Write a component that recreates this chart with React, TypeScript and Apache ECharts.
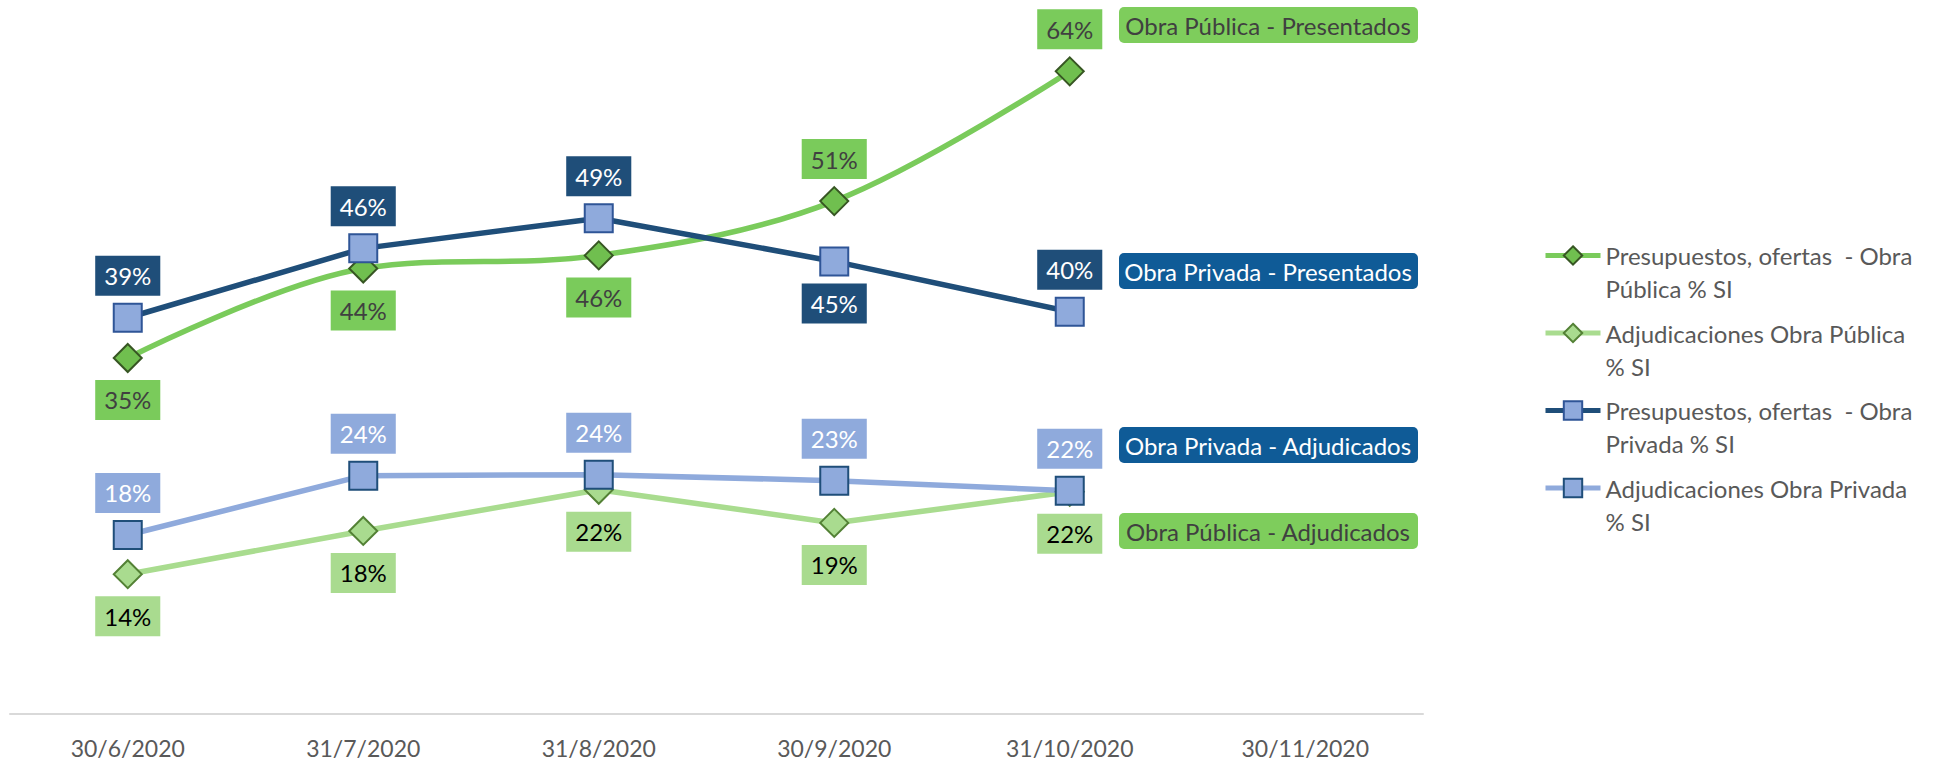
import React, { useEffect, useRef } from "react";
import * as echarts from "echarts";

const categories = ["30/6/2020", "31/7/2020", "31/8/2020", "30/9/2020", "31/10/2020", "30/11/2020"];

const seriesNames = [
  "Presupuestos, ofertas  - Obra Pública % SI",
  "Adjudicaciones Obra Pública % SI",
  "Presupuestos, ofertas  - Obra Privada % SI",
  "Adjudicaciones Obra Privada % SI",
];

const legendLabels: Record<string, string> = {
  "Presupuestos, ofertas  - Obra Pública % SI": "\nPresupuestos, ofertas  - Obra\nPública % SI",
  "Adjudicaciones Obra Pública % SI": "\nAdjudicaciones Obra Pública\n% SI",
  "Presupuestos, ofertas  - Obra Privada % SI": "\nPresupuestos, ofertas  - Obra\nPrivada % SI",
  "Adjudicaciones Obra Privada % SI": "\nAdjudicaciones Obra Privada\n% SI",
};

const publicaPresentados = [35.4, 44.3, 45.6, 51.0, 63.9];
const publicaAdjudicados = [13.9, 18.2, 22.3, 19.0, 22.1];
const privadaPresentados = [39.4, 46.3, 49.3, 45.0, 40.0];
const privadaAdjudicados = [17.8, 23.7, 23.8, 23.2, 22.2];

const publicaPresentadosLabelPos = ["bottom", "bottom", "bottom", "top", "top"];
const publicaAdjudicadosLabelPos = ["bottom", "bottom", "bottom", "bottom", "bottom"];
const privadaPresentadosLabelPos = ["top", "top", "top", "bottom", "top"];
const privadaAdjudicadosLabelPos = ["top", "top", "top", "top", "top"];

const annotations = [
  { text: "Obra Pública - Presentados", y: 7, bg: "#7ECD5C", color: "#404040" },
  { text: "Obra Privada - Presentados", y: 253, bg: "#0F5B97", color: "#FFFFFF" },
  { text: "Obra Privada - Adjudicados", y: 427, bg: "#0F5B97", color: "#FFFFFF" },
  { text: "Obra Pública - Adjudicados", y: 513, bg: "#7ECD5C", color: "#404040" },
];

const FONT = "Lato";

function makeSeries(
  name: string,
  values: number[],
  positions: string[],
  cfg: {
    line: string;
    symbol: string;
    fill: string;
    border: string;
    labelBg: string;
    labelColor: string;
    smooth: number | boolean;
  }
) {
  return {
    name,
    type: "line",
    smooth: cfg.smooth,
    symbol: cfg.symbol,
    symbolSize: 28,
    lineStyle: { color: cfg.line, width: 5.5 },
    itemStyle: { color: cfg.fill, borderColor: cfg.border, borderWidth: 2 },
    data: values.map((v, i) => ({
      value: v,
      label: { position: positions[i] },
    })),
    label: {
      show: true,
      distance: 7,
      formatter: (p: any) => Math.round(p.value) + "%",
      backgroundColor: cfg.labelBg,
      color: cfg.labelColor,
      fontFamily: FONT,
      fontSize: 24,
      lineHeight: 26,
      padding: [7, 9, 7, 9],
    },
    emphasis: { disabled: true },
  };
}

export default function App() {
  const ref = useRef<HTMLDivElement>(null);

  useEffect(() => {
    if (!ref.current) return;
    const chart = echarts.init(ref.current, null, { renderer: "svg" });

    const graphics: any[] = [];
    annotations.forEach((a) => {
      graphics.push({
        type: "group",
        children: [
          {
            type: "rect",
            shape: { x: 1119, y: a.y, width: 299, height: 36, r: 5 },
            style: { fill: a.bg },
          },
          {
            type: "text",
            x: 1268,
            y: a.y + 18,
            style: {
              text: a.text,
              fill: a.color,
              font: `24px ${FONT}`,
              align: "center",
              verticalAlign: "middle",
            },
          },
        ],
      });
    });

    chart.setOption({
      animation: false,
      grid: { left: 10, right: 514, top: 10, bottom: 46, containLabel: false },
      legend: {
        orient: "vertical",
        left: 1543,
        top: 206,
        padding: 0,
        itemWidth: 55,
        itemHeight: 23,
        itemGap: -21.5,
        selectedMode: false,
        data: seriesNames,
        formatter: (n: string) => legendLabels[n],
        lineStyle: { width: 5 },
        itemStyle: { borderWidth: 2 },
        textStyle: {
          fontFamily: FONT,
          fontSize: 24,
          color: "#595959",
          lineHeight: 33,
        },
      },
      xAxis: {
        type: "category",
        data: categories,
        boundaryGap: true,
        axisLine: { lineStyle: { color: "#D9D9D9", width: 2 } },
        axisTick: { show: false },
        axisLabel: {
          color: "#595959",
          fontFamily: FONT,
          fontSize: 23,
          margin: 22,
        },
      },
      yAxis: {
        type: "value",
        min: 0,
        max: 70,
        show: false,
        splitLine: { show: false },
      },
      graphic: graphics,
      series: [
        makeSeries(seriesNames[0], publicaPresentados, publicaPresentadosLabelPos, {
          line: "#7ACB5B",
          symbol: "diamond",
          fill: "#70BF4F",
          border: "#375623",
          labelBg: "#7ACB5B",
          labelColor: "#404040",
          smooth: 0.35,
        }),
        makeSeries(seriesNames[1], publicaAdjudicados, publicaAdjudicadosLabelPos, {
          line: "#A9DC8F",
          symbol: "diamond",
          fill: "#A9DB8F",
          border: "#538135",
          labelBg: "#A9DB8F",
          labelColor: "#000000",
          smooth: false,
        }),
        makeSeries(seriesNames[2], privadaPresentados, privadaPresentadosLabelPos, {
          line: "#1F4E79",
          symbol: "rect",
          fill: "#8FAADC",
          border: "#2F5597",
          labelBg: "#1F4E79",
          labelColor: "#FFFFFF",
          smooth: false,
        }),
        makeSeries(seriesNames[3], privadaAdjudicados, privadaAdjudicadosLabelPos, {
          line: "#8FAADC",
          symbol: "rect",
          fill: "#8FAADC",
          border: "#1F4E79",
          labelBg: "#8FAADC",
          labelColor: "#FFFFFF",
          smooth: false,
        }),
      ],
    });

    return () => chart.dispose();
  }, []);

  return (
    <div
      ref={ref}
      style={{ position: "fixed", left: 0, top: 0, width: 1937, height: 760, background: "#FFFFFF" }}
    />
  );
}
